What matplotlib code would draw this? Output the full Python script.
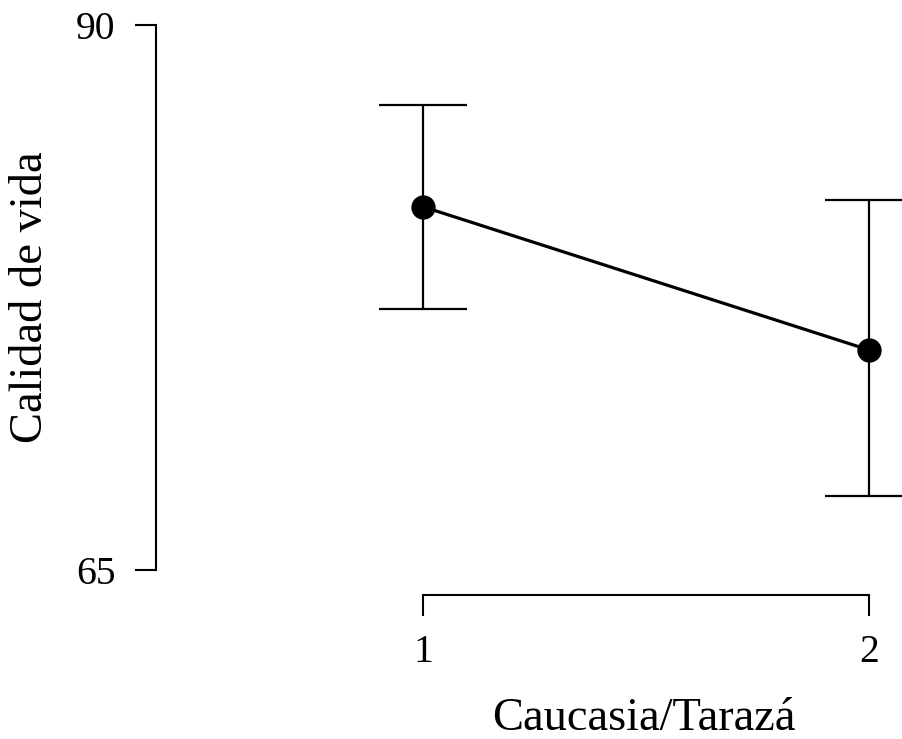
import matplotlib
matplotlib.use("Agg")
import matplotlib.pyplot as plt

groups = [1, 2]
group_labels = ["1", "2"]
means = [81.64, 75.07]
upper = [86.32, 81.94]
lower = [76.95, 68.37]
y_ticks = [65, 90]
x_title = "Caucasia/Tarazá"
y_title = "Calidad de vida"

plt.rcParams['font.family'] = ['Liberation Serif', 'DejaVu Serif']

fig = plt.figure(figsize=(9.02, 7.39), dpi=100)
W, H = 902, 739
ax = fig.add_axes([156 / W, 1 - 595.3 / H, (W - 156) / W, 595.3 / H])
ax.patch.set_alpha(0)

err_lo = [m - l for m, l in zip(means, lower)]
err_hi = [u - m for m, u in zip(means, upper)]
ax.errorbar(groups, means, yerr=[err_lo, err_hi], fmt='none', ecolor='black',
            elinewidth=1.6, capsize=31.5, capthick=1.6, clip_on=False, zorder=2)
ax.plot(groups, means, color='black', lw=2.3, zorder=3, clip_on=False)
ax.plot(groups, means, 'o', color='black', ms=16.5, zorder=4, clip_on=False)

ax.set_xlim(1 - 267 / 446, 2 + 33 / 446)
ax.set_ylim(65 - 25.8 / 21.8, 90 + 24.5 / 21.8)

for s in ['top', 'right']:
    ax.spines[s].set_visible(False)
ax.spines['left'].set_bounds(65, 90)
ax.spines['bottom'].set_bounds(1, 2)
ax.spines['left'].set_linewidth(1.5)
ax.spines['bottom'].set_linewidth(1.5)

ax.set_xticks(groups)
ax.set_xticklabels(group_labels)
ax.set_yticks(y_ticks)
ax.tick_params(axis='both', direction='out', length=15, width=1.5, labelsize=28.5)
ax.tick_params(axis='y', pad=14)
ax.tick_params(axis='x', pad=13)

fig.text(644 / W, 1 - 730 / H, x_title, ha='center', va='baseline', fontsize=33.5)
fig.text(31 / W, 1 - 297 / H, y_title, ha='center', va='center', rotation=90, fontsize=33.5)

fig.savefig('out.png', dpi=100)
